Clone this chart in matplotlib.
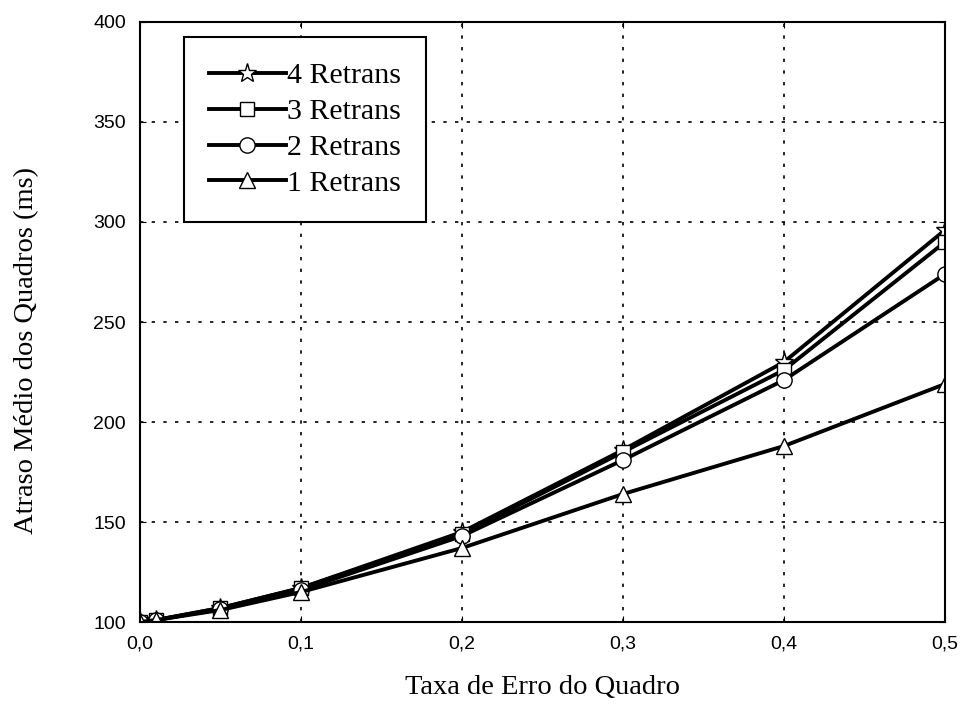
import matplotlib
matplotlib.use('Agg')
import matplotlib.pyplot as plt

# frame error rate and mean frame delay (ms) per retransmission limit
taxa = [0.0, 0.01, 0.05, 0.1, 0.2, 0.3, 0.4, 0.5]
retrans4 = [100, 101, 107, 117, 145, 186, 230, 296]
retrans3 = [100, 101, 107, 117, 144, 185, 226, 290]
retrans2 = [100, 101, 106.5, 116, 143, 181, 221, 274]
retrans1 = [100, 101, 106, 115, 137, 164, 188, 219]

fig = plt.figure(figsize=(9.64, 7.07), dpi=100)
ax = fig.add_axes([0.1452, 0.1202, 0.8351, 0.8487])

estilo = dict(color='black', lw=2.8, mfc='white', mec='black', mew=1.0)
ax.plot(taxa, retrans4, marker='*', ms=14, label='4 Retrans', **estilo)
ax.plot(taxa, retrans3, marker='s', ms=10, label='3 Retrans', **estilo)
ax.plot(taxa, retrans2, marker='o', ms=11, label='2 Retrans', **estilo)
ax.plot(taxa, retrans1, marker='^', ms=12, label='1 Retrans', **estilo)

ax.set_xlim(0, 0.5)
ax.set_ylim(100, 400)
ax.set_xticks([0, 0.1, 0.2, 0.3, 0.4, 0.5])
ax.set_xticklabels(['0,0', '0,1', '0,2', '0,3', '0,4', '0,5'])
ax.set_yticks(range(100, 401, 50))
ax.grid(True, color='black', linestyle=(0, (2, 5)), lw=1.2)
ax.tick_params(direction='in', top=True, right=True, length=4, pad=10,
               labelsize=14)
for lbl in ax.get_xticklabels() + ax.get_yticklabels():
    lbl.set_fontfamily('Liberation Sans')
for s in ax.spines.values():
    s.set_linewidth(1.5)

ax.set_xlabel('Taxa de Erro do Quadro', family='Liberation Serif',
              fontsize=20.5, labelpad=16)
ax.set_ylabel('Atraso Médio dos Quadros (ms)', family='Liberation Serif',
              fontsize=20.5)
ax.yaxis.set_label_coords(-0.125, 0.452)

leg = ax.legend(loc='upper left', bbox_to_anchor=(0.0547, 0.975),
                prop={'family': 'Liberation Serif', 'size': 21.5},
                fancybox=False, framealpha=1, edgecolor='black',
                borderpad=0.85, handlelength=2.55, handletextpad=0.05,
                labelspacing=0.3, borderaxespad=0)
leg.get_frame().set_linewidth(1.5)

fig.savefig('out.png', dpi=100)
